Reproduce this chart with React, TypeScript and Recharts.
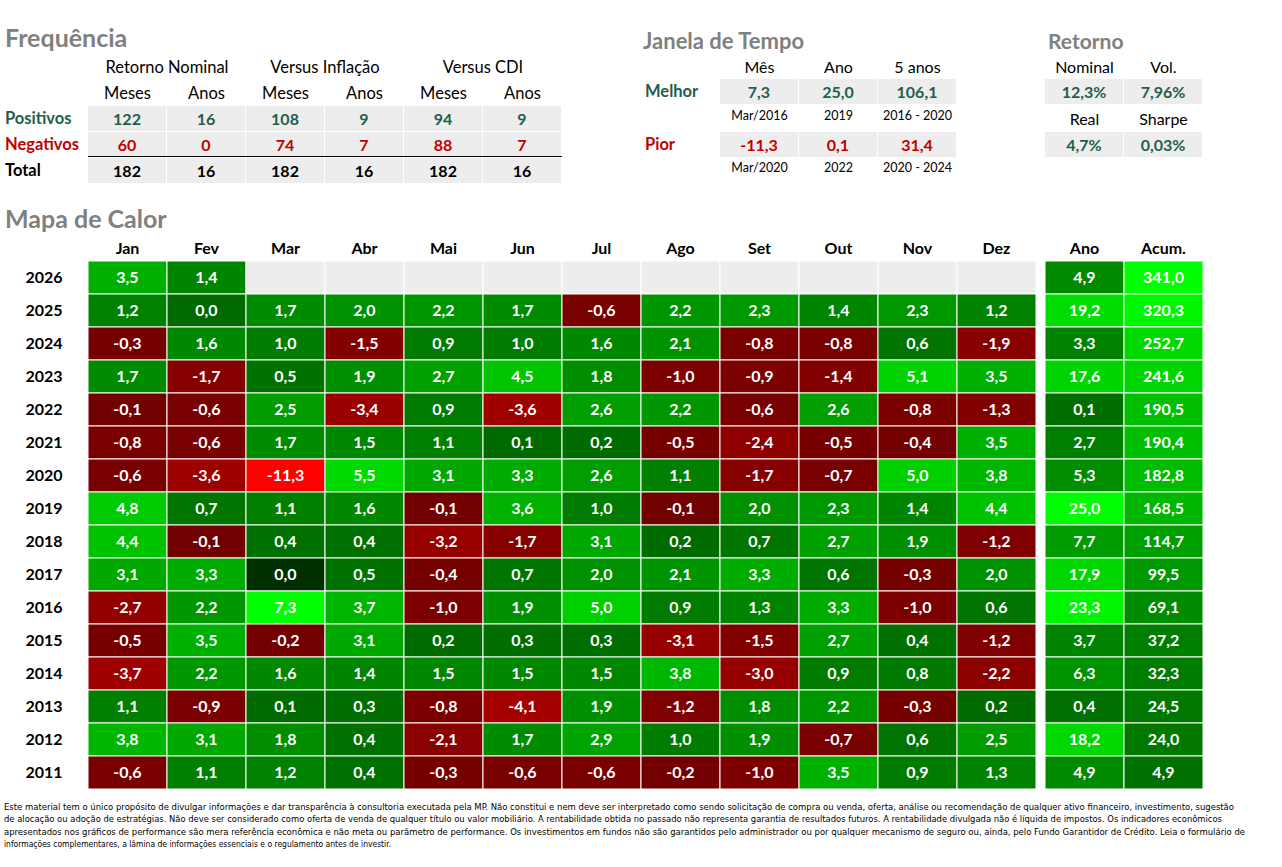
import { ScatterChart, Scatter, XAxis, YAxis } from "recharts";

// ---- data ----
const MONTHS = ["Jan", "Fev", "Mar", "Abr", "Mai", "Jun", "Jul", "Ago", "Set", "Out", "Nov", "Dez"];
const EXTRA_COLS = ["Ano", "Acum."];
const YEARS = [2026, 2025, 2024, 2023, 2022, 2021, 2020, 2019, 2018, 2017, 2016, 2015, 2014, 2013, 2012, 2011];

const MONTHLY: (number | null)[][] = [
  [3.5, 1.4, null, null, null, null, null, null, null, null, null, null],
  [1.2, 0.04, 1.7, 2.0, 2.2, 1.7, -0.6, 2.2, 2.3, 1.4, 2.3, 1.2],
  [-0.3, 1.6, 1.0, -1.5, 0.9, 1.0, 1.6, 2.1, -0.8, -0.8, 0.6, -1.9],
  [1.7, -1.7, 0.5, 1.9, 2.7, 4.5, 1.8, -1.0, -0.9, -1.4, 5.1, 3.5],
  [-0.1, -0.6, 2.5, -3.4, 0.9, -3.6, 2.6, 2.2, -0.6, 2.6, -0.8, -1.3],
  [-0.8, -0.6, 1.7, 1.5, 1.1, 0.1, 0.2, -0.5, -2.4, -0.5, -0.4, 3.5],
  [-0.6, -3.6, -11.3, 5.5, 3.1, 3.3, 2.6, 1.1, -1.7, -0.7, 5.0, 3.8],
  [4.8, 0.7, 1.1, 1.6, -0.1, 3.6, 1.0, -0.1, 2.0, 2.3, 1.4, 4.4],
  [4.4, -0.1, 0.4, 0.4, -3.2, -1.7, 3.1, 0.2, 0.7, 2.7, 1.9, -1.2],
  [3.1, 3.3, 0.0, 0.5, -0.4, 0.7, 2.0, 2.1, 3.3, 0.6, -0.3, 2.0],
  [-2.7, 2.2, 7.3, 3.7, -1.0, 1.9, 5.0, 0.9, 1.3, 3.3, -1.0, 0.6],
  [-0.5, 3.5, -0.2, 3.1, 0.2, 0.3, 0.3, -3.1, -1.5, 2.7, 0.4, -1.2],
  [-3.7, 2.2, 1.6, 1.4, 1.5, 1.5, 1.5, 3.8, -3.0, 0.9, 0.8, -2.2],
  [1.1, -0.9, 0.1, 0.3, -0.8, -4.1, 1.9, -1.2, 1.8, 2.2, -0.3, 0.2],
  [3.8, 3.1, 1.8, 0.4, -2.1, 1.7, 2.9, 1.0, 1.9, -0.7, 0.6, 2.5],
  [-0.6, 1.1, 1.2, 0.4, -0.3, -0.6, -0.6, -0.2, -1.0, 3.5, 0.9, 1.3],
];
const ANO = [4.9, 19.2, 3.3, 17.6, 0.1, 2.7, 5.3, 25.0, 7.7, 17.9, 23.3, 3.7, 6.3, 0.4, 18.2, 4.9];
const ACUM = [341.0, 320.3, 252.7, 241.6, 190.5, 190.4, 182.8, 168.5, 114.7, 99.5, 69.1, 37.2, 32.3, 24.5, 24.0, 4.9];

const FREQ_GROUPS = ["Retorno Nominal", "Versus Inflação", "Versus CDI"];
const FREQ_SUB = ["Meses", "Anos"];
const FREQ_POS = [122, 16, 108, 9, 94, 9];
const FREQ_NEG = [60, 0, 74, 7, 88, 7];
const FREQ_TOT = [182, 16, 182, 16, 182, 16];

const JANELA_HEAD = ["Mês", "Ano", "5 anos"];
const MELHOR = [7.3, 25.0, 106.1];
const MELHOR_WHEN = ["Mar/2016", "2019", "2016 - 2020"];
const PIOR = [-11.3, 0.1, 31.4];
const PIOR_WHEN = ["Mar/2020", "2022", "2020 - 2024"];

const RET_HEAD_1 = ["Nominal", "Vol."];
const RET_VAL_1 = ["12,3%", "7,96%"];
const RET_HEAD_2 = ["Real", "Sharpe"];
const RET_VAL_2 = ["4,7%", "0,03%"];

const DISCLAIMER = [
  "Este material tem o único propósito de divulgar informações e dar transparência à consultoria executada pela MP. Não constitui e nem deve ser interpretado como sendo solicitação de compra ou venda, oferta, análise ou recomendação de qualquer ativo financeiro, investimento, sugestão",
  "de alocação ou adoção de estratégias. Não deve ser considerado como oferta de venda de qualquer título ou valor mobiliário. A rentabilidade obtida no passado não representa garantia de resultados futuros. A rentabilidade divulgada não é líquida de impostos. Os indicadores econômicos",
  "apresentados nos gráficos de performance são mera referência econômica e não meta ou parâmetro de performance. Os investimentos em fundos não são garantidos pelo administrador ou por qualquer mecanismo de seguro ou, ainda, pelo Fundo Garantidor de Crédito. Leia o formulário de",
  "informações complementares, a lâmina de informações essenciais e o regulamento antes de investir.",
];

// ---- layout / style ----
const FONT = "Lato, 'Open Sans', sans-serif";
const TEAL = "#1f5e4d";
const RED = "#c00000";
const GREY_TITLE = "#808080";
const BOX_BG = "#ededed";

const CHART_W = 1282;
const CHART_H = 800;
const MARGIN = { top: 231, right: 79, bottom: 11, left: 0 };
const Y_AXIS_W = 88;
const GAP = 9 / 79; // gap between Dez and Ano, in column units
const COL_POS = [...MONTHS.map((_, i) => i), 12 + GAP, 13 + GAP];
const COL_LABELS = [...MONTHS, ...EXTRA_COLS];
const X_DOMAIN: [number, number] = [-0.5, 13.5 + GAP];
const Y_DOMAIN: [number, number] = [2010.5, 2026.5];
const PLOT_W = CHART_W - MARGIN.left - MARGIN.right - Y_AXIS_W;
const PLOT_H = CHART_H - MARGIN.top - MARGIN.bottom - 30;
const CELL_W = PLOT_W / (X_DOMAIN[1] - X_DOMAIN[0]);
const CELL_H = PLOT_H / (Y_DOMAIN[1] - Y_DOMAIN[0]);

// top tables share the heatmap column grid
const GRID_X0 = 88;
const GRID_W = 79;

const fmt = (v: number, d = 1) => v.toFixed(d).replace(".", ",");

function heatColor(kind: string, v: number | null) {
  if (v === null) return BOX_BG;
  if (kind === "ano") return `rgb(0,${Math.round(110 + (145 * v) / 25)},0)`;
  if (kind === "acum") return `rgb(0,${Math.round(110 + (145 * v) / 341)},0)`;
  if (v === 0) return "rgb(0,48,0)";
  if (v > 0) return `rgb(0,${Math.round(104 + 151 * Math.min(v / 7.3, 1))},0)`;
  return `rgb(${Math.round(112 + 143 * Math.min(-v / 11.3, 1))},0,0)`;
}

const cells: { x: number; y: number; v: number | null; kind: string }[] = [];
YEARS.forEach((year, r) => {
  MONTHLY[r].forEach((v, c) => cells.push({ x: COL_POS[c], y: year, v, kind: "m" }));
  cells.push({ x: COL_POS[12], y: year, v: ANO[r], kind: "ano" });
  cells.push({ x: COL_POS[13], y: year, v: ACUM[r], kind: "acum" });
});

function HeatCell(props: any) {
  const { cx, cy, payload } = props;
  if (cx == null || cy == null) return null;
  return (
    <g>
      <rect
        x={cx - CELL_W / 2}
        y={cy - CELL_H / 2}
        width={CELL_W}
        height={CELL_H}
        fill={heatColor(payload.kind, payload.v)}
        stroke="#fff"
        strokeWidth={1}
      />
      {payload.v !== null && (
        <text x={cx} y={cy + 5.5} textAnchor="middle" fill="#fff" fontSize={16} fontWeight={700} fontFamily={FONT}>
          {fmt(payload.v)}
        </text>
      )}
    </g>
  );
}

function ColTick(props: any) {
  const { x, y, payload } = props;
  const idx = COL_POS.indexOf(payload.value);
  return (
    <text x={x} y={y + 1} textAnchor="middle" fill="#000" fontSize={16} fontWeight={700} fontFamily={FONT}>
      {COL_LABELS[idx]}
    </text>
  );
}

function YearTick(props: any) {
  const { y, payload } = props;
  return (
    <text x={44} y={y + 5.5} textAnchor="middle" fill="#000" fontSize={16} fontWeight={700} fontFamily={FONT}>
      {payload.value}
    </text>
  );
}

function Box({ x, y, w, h, bg, color = "#000", bold = false, size = 16, children }: any) {
  return (
    <div
      style={{
        position: "absolute",
        left: x,
        top: y,
        width: w,
        height: h,
        background: bg,
        color,
        fontWeight: bold ? 700 : 400,
        fontSize: size,
        display: "flex",
        alignItems: "center",
        justifyContent: "center",
        whiteSpace: "nowrap",
      }}
    >
      {children}
    </div>
  );
}

function Label({ x, y, color = "#000", bold = true, size = 16, children }: any) {
  return (
    <div
      style={{
        position: "absolute",
        left: x,
        top: y - size * 0.65,
        color,
        fontWeight: bold ? 700 : 400,
        fontSize: size,
        lineHeight: `${size * 1.3}px`,
        whiteSpace: "nowrap",
      }}
    >
      {children}
    </div>
  );
}

const colX = (i: number) => GRID_X0 + GRID_W * i;

function Frequencia() {
  const rows = [
    { label: "Positivos", vals: FREQ_POS, color: TEAL, top: 106 },
    { label: "Negativos", vals: FREQ_NEG, color: RED, top: 132 },
    { label: "Total", vals: FREQ_TOT, color: "#000", top: 158 },
  ];
  return (
    <>
      <Label x={5} y={37} color={GREY_TITLE} size={25}>Frequência</Label>
      {FREQ_GROUPS.map((g, i) => (
        <Box key={g} x={colX(i * 2)} y={57} w={GRID_W * 2} h={20} size={16.5}>{g}</Box>
      ))}
      {FREQ_GROUPS.map((_, i) =>
        FREQ_SUB.map((s, j) => (
          <Box key={`${i}${s}`} x={colX(i * 2 + j)} y={83} w={GRID_W} h={20} size={16.5}>{s}</Box>
        ))
      )}
      {rows.map((r) => (
        <div key={r.label}>
          <Label x={5} y={r.top + 13} color={r.color} size={16.5}>{r.label}</Label>
          {r.vals.map((v, i) => (
            <Box key={i} x={colX(i)} y={r.top} w={GRID_W - 1} h={25} bg={BOX_BG} color={r.color} bold>
              {v}
            </Box>
          ))}
        </div>
      ))}
      <div style={{ position: "absolute", left: GRID_X0, top: 156, width: GRID_W * 6, height: 1, background: "#000" }} />
    </>
  );
}

function Janela() {
  const c0 = 8; // Set..Nov columns
  return (
    <>
      <Label x={643} y={41} color={GREY_TITLE} size={22}>Janela de Tempo</Label>
      {JANELA_HEAD.map((h, i) => (
        <Box key={h} x={colX(c0 + i)} y={56} w={GRID_W} h={20}>{h}</Box>
      ))}
      <Label x={645} y={92} color={TEAL} size={16.5}>Melhor</Label>
      {MELHOR.map((v, i) => (
        <Box key={i} x={colX(c0 + i)} y={79} w={GRID_W - 1} h={25} bg={BOX_BG} color={TEAL} bold>{fmt(v)}</Box>
      ))}
      {MELHOR_WHEN.map((t, i) => (
        <Box key={t} x={colX(c0 + i)} y={106} w={GRID_W} h={18} size={12.5}>{t}</Box>
      ))}
      <Label x={645} y={145} color={RED} size={16.5}>Pior</Label>
      {PIOR.map((v, i) => (
        <Box key={i} x={colX(c0 + i)} y={132} w={GRID_W - 1} h={25} bg={BOX_BG} color={RED} bold>{fmt(v)}</Box>
      ))}
      {PIOR_WHEN.map((t, i) => (
        <Box key={t} x={colX(c0 + i)} y={158} w={GRID_W} h={18} size={12.5}>{t}</Box>
      ))}
    </>
  );
}

function Retorno() {
  const x0 = 1045;
  return (
    <>
      <Label x={1048} y={41} color={GREY_TITLE} size={21}>Retorno</Label>
      {RET_HEAD_1.map((h, i) => (
        <Box key={h} x={x0 + GRID_W * i} y={56} w={GRID_W} h={20}>{h}</Box>
      ))}
      {RET_VAL_1.map((v, i) => (
        <Box key={v} x={x0 + GRID_W * i} y={79} w={GRID_W - 1} h={25} bg={BOX_BG} color={TEAL} bold>{v}</Box>
      ))}
      {RET_HEAD_2.map((h, i) => (
        <Box key={h} x={x0 + GRID_W * i} y={108} w={GRID_W} h={20}>{h}</Box>
      ))}
      {RET_VAL_2.map((v, i) => (
        <Box key={v} x={x0 + GRID_W * i} y={132} w={GRID_W - 1} h={25} bg={BOX_BG} color={TEAL} bold>{v}</Box>
      ))}
    </>
  );
}

const LINE_ENDS = [1234, 1222, 1245, 391];

export default function App() {
  return (
    <div
      style={{
        position: "absolute",
        left: 0,
        top: 0,
        width: 1282,
        height: 867,
        background: "#fff",
        fontFamily: FONT,
        color: "#000",
        overflow: "hidden",
      }}
    >
      <div style={{ position: "absolute", left: 0, top: 0 }}>
        <ScatterChart width={CHART_W} height={CHART_H} margin={MARGIN}>
          <XAxis
            dataKey="x"
            type="number"
            orientation="top"
            domain={X_DOMAIN}
            ticks={COL_POS}
            interval={0}
            axisLine={false}
            tickLine={false}
            height={30}
            tick={<ColTick />}
          />
          <YAxis
            dataKey="y"
            type="number"
            domain={Y_DOMAIN}
            ticks={YEARS}
            interval={0}
            axisLine={false}
            tickLine={false}
            width={Y_AXIS_W}
            tick={<YearTick />}
          />
          <Scatter data={cells} shape={(p: any) => <HeatCell {...p} />} isAnimationActive={false} />
        </ScatterChart>
      </div>
      <Label x={5} y={218} color={GREY_TITLE} size={25}>Mapa de Calor</Label>
      <Frequencia />
      <Janela />
      <Retorno />
      <svg style={{ position: "absolute", left: 0, top: 796 }} width={1282} height={60}>
        {DISCLAIMER.map((line, i) => (
          <text
            key={i}
            x={4}
            y={14 + i * 12.3}
            fontSize={9.5}
            fontFamily="'Liberation Sans Narrow', 'DejaVu Sans Condensed', sans-serif"
            textLength={LINE_ENDS[i] - 4}
            lengthAdjust="spacingAndGlyphs"
          >
            {line}
          </text>
        ))}
      </svg>
    </div>
  );
}
